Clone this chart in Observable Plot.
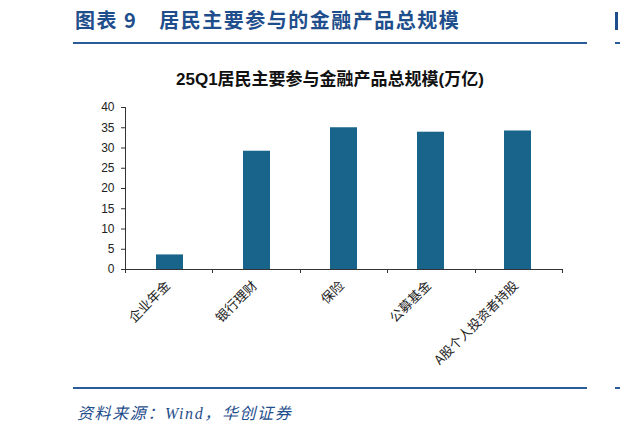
<!DOCTYPE html>
<html><head><meta charset="utf-8">
<script src="https://cdn.jsdelivr.net/npm/d3@7"></script>
<script src="https://cdn.jsdelivr.net/npm/@observablehq/plot@0.6"></script>
<style>
body{margin:0;background:#fff;}
#wrap{position:relative;width:620px;height:434px;overflow:hidden;font-family:"Noto Sans CJK SC",sans-serif;background:#fff;}
.hdr{position:absolute;left:75px;top:7px;font-size:20px;line-height:26px;font-weight:bold;color:#1f4e8c;letter-spacing:1.5px;white-space:nowrap;}
.rule{position:absolute;height:2px;background:#2b5c9a;}
.ctitle{position:absolute;left:130px;width:400px;top:69px;text-align:center;font-size:17px;line-height:22px;font-weight:bold;color:#111;font-family:"Liberation Sans","Noto Sans CJK SC",sans-serif;white-space:nowrap;}
#chart{position:absolute;left:0;top:95px;}
.src{position:absolute;left:77px;top:403px;font-size:16px;line-height:22px;font-style:italic;color:#1f4e8c;letter-spacing:1.6px;font-family:"Liberation Serif","Noto Sans CJK SC",serif;white-space:nowrap;}
.frag{position:absolute;left:615px;top:12px;width:3px;height:18px;background:#1f4e8c;}
</style>
</head><body>
<div id="wrap">
  <div class="hdr">图表 9<span style="display:inline-block;width:22px"></span>居民主要参与的金融产品总规模</div>
  <div class="frag"></div>
  <div class="rule" style="left:73px;top:42px;width:514px;"></div>
  <div class="rule" style="left:615px;top:42px;width:10px;"></div>
  <div class="ctitle">25Q1居民主要参与金融产品总规模(万亿)</div>
  <div id="chart"></div>
  <div class="rule" style="left:73px;top:387px;width:514px;"></div>
  <div class="rule" style="left:615px;top:387px;width:10px;"></div>
  <div class="src">资料来源：Wind，华创证券</div>
</div>
<script>
const categories = ["企业年金", "银行理财", "保险", "公募基金", "A股个人投资者持股"];
const values = [3.6, 29.2, 35.0, 33.9, 34.2];
const yTicks = [0, 5, 10, 15, 20, 25, 30, 35, 40];

const data = categories.map((c, i) => ({category: c, value: values[i]}));

function axisLines(index, scales, vals, dimensions) {
  const {width, height, marginLeft, marginRight, marginTop, marginBottom} = dimensions;
  const n = categories.length;
  const step = (width - marginLeft - marginRight) / n;
  const y0 = height - marginBottom;
  const g = d3.create("svg:g").attr("stroke", "#333").attr("stroke-width", 1);
  g.append("line").attr("x1", marginLeft + 0.5).attr("x2", marginLeft + 0.5)
    .attr("y1", marginTop).attr("y2", y0);
  g.append("line").attr("x1", marginLeft).attr("x2", width - marginRight)
    .attr("y1", y0 + 0.5).attr("y2", y0 + 0.5);
  for (let i = 0; i <= n; i++) {
    const x = Math.round(marginLeft + step * i) + 0.5;
    g.append("line").attr("x1", x).attr("x2", x).attr("y1", y0).attr("y2", y0 + 4);
  }
  return g.node();
}

const chart = Plot.plot({
  width: 620,
  height: 285,
  marginLeft: 125,
  marginRight: 58,
  marginTop: 12,
  marginBottom: 111,
  style: {fontFamily: "'Liberation Sans', Arial, sans-serif", fontSize: "12px", color: "#222", background: "transparent", overflow: "visible"},
  x: {domain: categories, paddingInner: 0.688, paddingOuter: 0.344, label: null},
  y: {domain: [0, 40], label: null},
  marks: [
    Plot.barY(data, {x: "category", y: "value", fill: "#18648a"}),
    Plot.axisY({ticks: yTicks, tickSize: 4, tickPadding: 7, label: null, stroke: "#333", fill: "#222", fontSize: 12}),
    Plot.axisX({tickSize: 0, tickRotate: -45, tickPadding: 14, dx: -2, label: null, fill: "#222", fontSize: 13, fontFamily: "'Noto Sans CJK SC', sans-serif"}),
    axisLines
  ]
});
document.getElementById("chart").appendChild(chart);
</script>
</body></html>
